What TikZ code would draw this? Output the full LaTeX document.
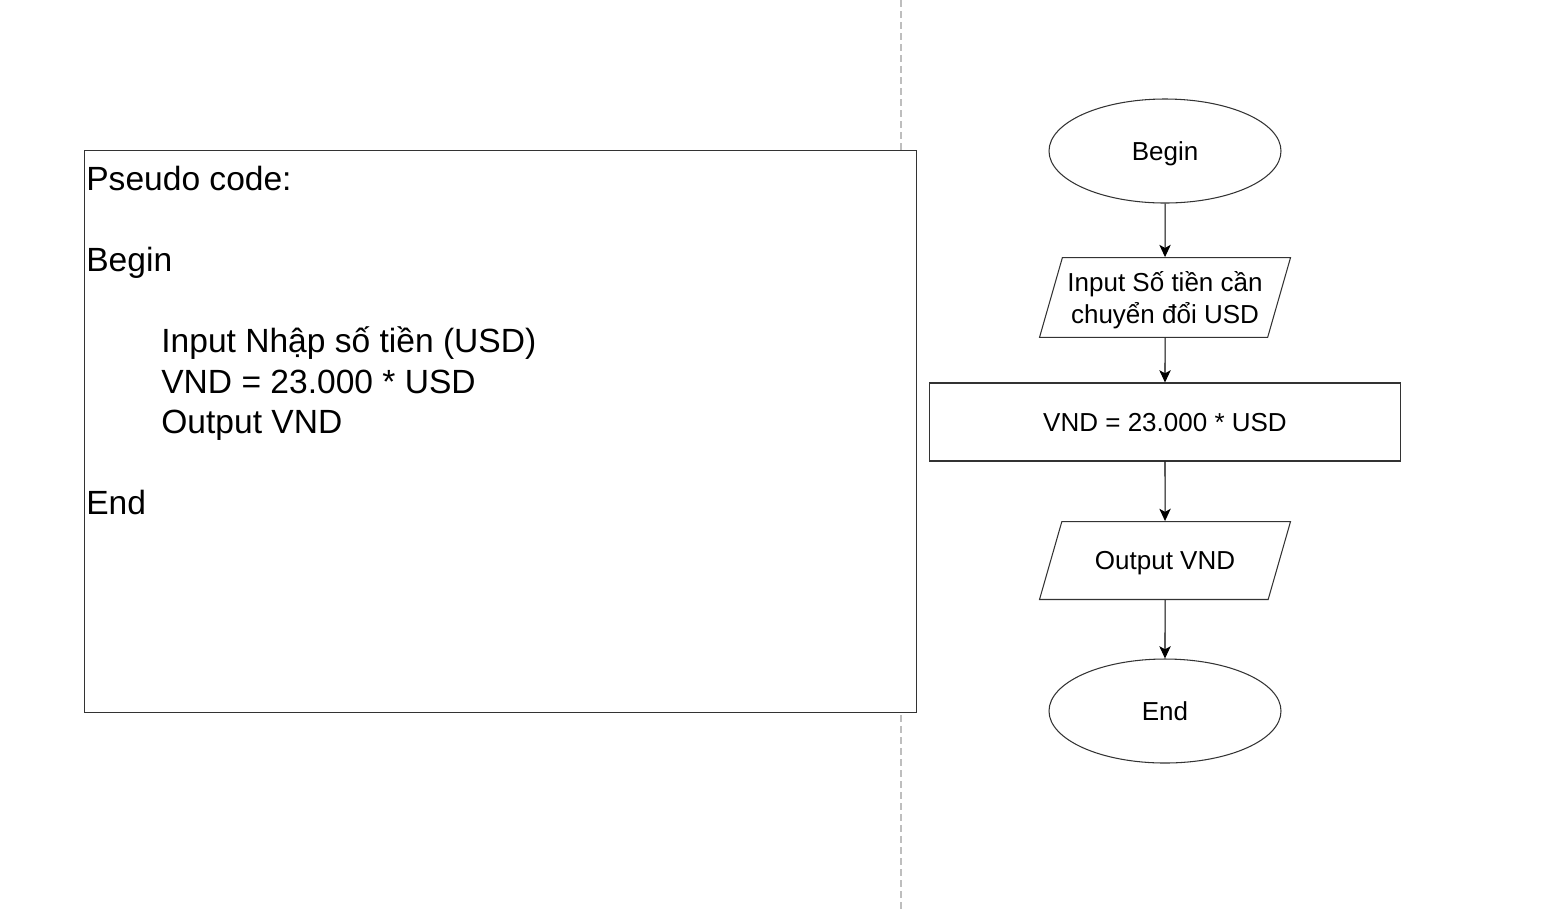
\documentclass[tikz,border=0pt]{standalone}
\usepackage{fontspec}
\setmainfont{Liberation Sans}
\usepackage{tikz}
\usetikzlibrary{arrows.meta,positioning,shapes.geometric}
\definecolor{divgray}{RGB}{190,190,190}
\newcommand{\pseudofont}{\fontsize{19.1pt}{22.9pt}\selectfont}
\newcommand{\flowfont}{\fontsize{14.8pt}{17.7pt}\selectfont}
\tikzset{
  codeline/.style={anchor=base west, inner sep=0pt, font=\pseudofont},
  terminal/.style={ellipse, draw=black!80, line width=0.6pt, minimum width=4.64cm, minimum height=2.08cm, inner sep=0pt, text depth=0pt, font=\flowfont},
  io/.style={trapezium, trapezium left angle=74, trapezium right angle=106, trapezium stretches body=true, draw=black!80, line width=0.6pt, minimum width=5.02cm, inner xsep=0pt, text depth=0pt, align=center, font=\flowfont},
  process/.style={rectangle, draw=black!80, line width=0.6pt, minimum width=9.42cm, minimum height=1.56cm, inner sep=0pt, text depth=0pt, font=\flowfont},
  flow/.style={-{Stealth[length=7pt,width=6.5pt,inset=1.8pt]}, line width=0.6pt, draw=black},
  divider/.style={draw=divgray, line width=1.1pt, dash pattern=on 0.14cm off 0.08cm}
}
\begin{document}
\begin{tikzpicture}
  \useasboundingbox (0,0) rectangle (31.36,-18.2);

  % Divider
  \coordinate (divtop) at (18.02,0);
  \coordinate (divbot) at (18.02,-18.2);
  \draw[divider] (divtop) -- (divbot);

  % Pseudo code box
  \node[draw=black!80, line width=0.6pt, fill=white, minimum width=16.64cm, minimum height=11.24cm, inner sep=0pt, anchor=north west] (codebox) at (1.68,-3.0) {};
  \node[codeline] (ctitle) at (1.72,-3.80)  {Pseudo code:};
  \node[codeline] (cbegin) at (1.72,-5.424) {Begin};
  \node[codeline] (cinput) at (3.22,-7.048) {Input Nhập số tiền (USD)};
  \node[codeline] (ccalc)  at (3.22,-7.860) {VND = 23.000 * USD};
  \node[codeline] (cout)   at (3.22,-8.672) {Output VND};
  \node[codeline] (cend)   at (1.72,-10.296) {End};

  % Flowchart
  \node[terminal] (begin)  at (23.3,-3.02)  {Begin};
  \node[io, inner ysep=8.15pt] (input)  at (23.3,-5.95)  {Input Số tiền cần\\chuyển đổi USD};
  \node[process]  (calc)   at (23.3,-8.44)  {VND = 23.000 * USD};
  \node[io, inner ysep=17pt]   (output) at (23.3,-11.21) {Output VND};
  \node[terminal] (end)    at (23.3,-14.22) {End};

  \draw[flow] (begin) -- (input);
  \draw[flow] (input) -- (calc);
  \draw[flow] (calc) -- (output);
  \draw[flow] (output) -- (end);

\end{tikzpicture}
\end{document}
